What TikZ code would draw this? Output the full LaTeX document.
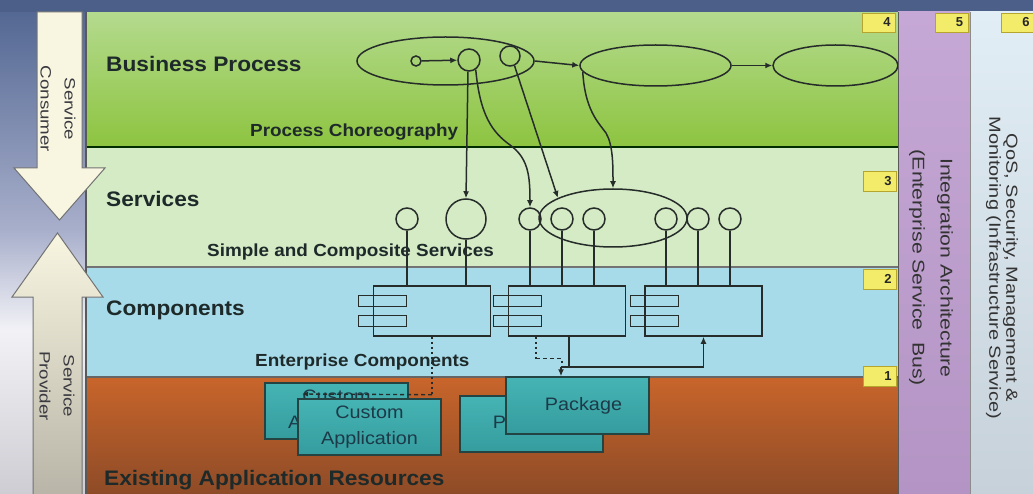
\documentclass[tikz,border=0pt]{standalone}
\usepackage{fontspec}
\setmainfont{Liberation Sans}
\newfontfamily\titlefont[FakeStretch=1.08]{Liberation Sans}
\newfontfamily\boxfont[FakeStretch=1.1]{Liberation Sans}
\newfontfamily\sidefont[FakeStretch=1.25]{Liberation Sans}
\usetikzlibrary{shapes.geometric,arrows.meta,calc}

% palette
\definecolor{topbar}{HTML}{4B5F89}
\definecolor{sideA}{HTML}{4F6490}
\definecolor{sideB}{HTML}{A8AFCB}
\definecolor{sideC}{HTML}{F2F2F6}
\definecolor{sideD}{HTML}{CDCDD3}
\definecolor{bpTop}{HTML}{B4DA8E}
\definecolor{bpBot}{HTML}{8DC440}
\definecolor{svc}{HTML}{D5EBC5}
\definecolor{cmp}{HTML}{A8DBE9}
\definecolor{resTop}{HTML}{C8652B}
\definecolor{resBot}{HTML}{8E4B27}
\definecolor{esbTop}{HTML}{C6A8D6}
\definecolor{esbBot}{HTML}{B394C4}
\definecolor{infraTop}{HTML}{E2EEF5}
\definecolor{infraBot}{HTML}{C6D1D9}
\definecolor{cream}{HTML}{F8F6E1}
\definecolor{creamDark}{HTML}{B8B4A7}
\definecolor{tagFill}{HTML}{F3EC6A}
\definecolor{tagLine}{HTML}{B5A52E}
\definecolor{appTop}{HTML}{46B4B4}
\definecolor{appBot}{HTML}{359C9E}
\definecolor{appLine}{HTML}{244444}
\definecolor{appInk}{HTML}{1C3A48}
\definecolor{ink}{HTML}{262C2A}
\definecolor{titleInk}{HTML}{1E2A2A}
\definecolor{sideInk}{HTML}{3A3A40}

\begin{document}
\begin{tikzpicture}[x=1pt,y=-1pt,
  ring/.style={circle, draw=ink, line width=1.5pt, inner sep=0pt},
  oval/.style={ellipse, draw=ink, line width=1.5pt, inner sep=0pt},
  arr/.style={draw=ink, line width=1.5pt, -{Latex[length=7pt,width=6pt]}},
  wire/.style={draw=ink, line width=1.5pt},
  comp/.style={rectangle, draw=ink, line width=1.5pt, minimum width=117pt, minimum height=50pt, inner sep=0pt},
  tab/.style={rectangle, draw=ink, line width=1.4pt, minimum width=48pt, minimum height=11pt, inner sep=0pt},
  app/.style={rectangle, draw=appLine, line width=1.5pt, top color=appTop, bottom color=appBot,
    minimum width=143pt, minimum height=56pt, inner sep=0pt, align=center, text=appInk,
    font=\boxfont\fontsize{18}{26}\selectfont},
  dotv/.style={draw=ink, line width=1.5pt, dash pattern=on 2.5pt off 2.5pt},
  dashh/.style={draw=ink, line width=1.4pt, dash pattern=on 4pt off 3pt},
  tag/.style={rectangle, fill=tagFill, draw=tagLine, line width=0.8pt, text width=23pt, align=right,
    inner xsep=5pt, inner ysep=0pt, minimum height=20pt, text=black!85,
    font=\bfseries\fontsize{13}{13}\selectfont},
  layertitle/.style={anchor=base west, inner sep=0pt, text=titleInk,
    font=\titlefont\bfseries\fontsize{21}{25}\selectfont},
  layersub/.style={anchor=base west, inner sep=0pt, text=titleInk,
    font=\titlefont\bfseries\fontsize{17.5}{21}\selectfont},
  sidetext/.style={rotate=-90, align=center, inner sep=0pt},
  edge/.style={draw=black!65, line width=1.2pt}]

\useasboundingbox (0,0) rectangle (1033,494);

% ---- left margin backdrop
\fill[top color=sideA, bottom color=sideB] (0,0) rectangle (86,230.5);
\fill[top color=sideB, bottom color=sideC] (0,230) rectangle (86,330.5);
\fill[top color=sideC, bottom color=sideD] (0,330) rectangle (86,494);

% ---- the four layers
\fill[top color=bpTop, bottom color=bpBot] (86,12) rectangle (898,147);
\fill[svc] (86,147) rectangle (898,267);
\fill[cmp] (86,267) rectangle (898,377);
\fill[top color=resTop, bottom color=resBot] (86,377) rectangle (898,494);
\draw[draw=black!55!green!40!black, line width=1.3pt] (86,147) -- (898,147);
\draw[draw=black!55, line width=1.3pt] (86,267) -- (898,267);
\draw[draw=black!60, line width=1.3pt] (86,377) -- (898,377);
\draw[edge] (86,12) -- (86,494);

% ---- title bar
\fill[topbar] (0,0) rectangle (1033,12);

% ---- consumer / provider arrows
\draw[draw=black!55, line width=1pt, fill=cream]
  (37,12) -- (82,12) -- (82,168) -- (105,168) -- (59.5,220) -- (14,168) -- (37,168) -- cycle;
\draw[draw=black!55, line width=1pt, top color=cream, bottom color=creamDark]
  (33,496) -- (33,297) -- (12,297) -- (57.5,233) -- (103,297) -- (82,297) -- (82,496) -- cycle;
\node[sidetext, text=sideInk, font=\sidefont\fontsize{15}{24}\selectfont] (consumer) at (58,109) {Service\\Consumer};
\node[sidetext, text=sideInk, font=\sidefont\fontsize{15}{24}\selectfont] (provider) at (57,386) {Service\\Provider};

% ---- layer captions
\node[layertitle] (tBP)  at (106,72)  {Business Process};
\node[layersub]   (tPC)  at (250,137) {Process Choreography};
\node[layertitle] (tSV)  at (106,207) {Services};
\node[layersub]   (tSC)  at (207,257) {Simple and Composite Services};
\node[layertitle] (tCP)  at (106,316) {Components};
\node[layersub]   (tEC)  at (255,366) {Enterprise Components};
\node[layertitle] (tEA)  at (104,485) {Existing Application Resources};

% ---- business process flow
\node[oval, minimum width=177pt, minimum height=48pt] (bp1) at (445.5,61) {};
\node[oval, minimum width=151pt, minimum height=41pt] (bp2) at (655.5,65.5) {};
\node[oval, minimum width=125pt, minimum height=41pt] (bp3) at (835.5,65.5) {};
\node[ring, minimum size=10pt] (start) at (416,61) {};
\node[ring, minimum size=22pt] (actA) at (469,60) {};
\node[ring, minimum size=20pt] (actB) at (510,56) {};
\draw[arr] (start) -- (actA);
\draw[arr] (bp1.east) -- (bp2.west);
\draw[arr] (bp2.east) -- (bp3.west);

% ---- services
\node[ring, minimum size=22pt] (s1) at (407,219) {};
\node[ring, minimum size=40pt] (s2) at (466,219) {};
\node[ring, minimum size=22pt] (s3) at (530,219) {};
\node[ring, minimum size=22pt] (s4) at (562,219) {};
\node[ring, minimum size=22pt] (s5) at (594,219) {};
\node[ring, minimum size=22pt] (s6) at (666,219) {};
\node[ring, minimum size=22pt] (s7) at (698,219) {};
\node[ring, minimum size=22pt] (s8) at (730,219) {};
\node[oval, minimum width=148pt, minimum height=58pt] (comp) at (613,218) {};

% ---- choreography links
\draw[arr] (actA.-95) -- (s2.north);
\draw[arr] (actA.-55) .. controls (480,115) and (492,132) .. (510,145)
                      .. controls (528,158) and (530,175) .. (s3.north);
\draw[arr] (actB.-65) -- (comp.160);
\draw[arr] (bp2.185) .. controls (585,110) and (598,122) .. (606,133)
                     .. controls (613,145) and (613,165) .. (comp.north);

% ---- components
\node[comp] (box1) at (432,311) {};
\node[comp] (box2) at (567,311) {};
\node[comp] (box3) at (703.5,311) {};
\foreach \b in {box1,box2,box3}{
  \node[tab] (\b-tabA) at ($(\b.west)+(10,-10)$) {};
  \node[tab] (\b-tabB) at ($(\b.west)+(10,10)$) {};
}
\foreach \s/\b in {s1/box1,s2/box1,s3/box2,s4/box2,s5/box2,s6/box3,s7/box3,s8/box3}{
  \draw[wire] (\s.south) -- (\s.south |- \b.north);
}

% ---- application resources
\node[app] (appBack) at (336.5,411) {Custom\\Application};
\node[app] (appFront) at (369.5,427) {Custom\\Application};
\node[app] (pkgBack) at (531.5,424) {Package};
\node[app, minimum height=57pt] (pkgFront) at (577.5,405.5) {\hspace*{12pt}Package};

% ---- realisation links
\coordinate (custTip) at (302,394);
\draw[dotv] (box1.south) -- ++(0,58) coordinate (k1);
\draw[dashh, -{Latex[length=6pt,width=5pt]}] (k1) -- (custTip);
\draw[dotv] ($(box2.south)+(-31,0)$) -- ++(0,22) coordinate (k2);
\draw[dashh] (k2) -- ++(26,0) -- ++(0,4);
\draw[wire] ($(box2.south)+(2,0)$) -- ++(0,31);
\coordinate (jL) at (561,367);
\coordinate (jR) at (box3.south |- jL);
\draw[arr] (jL) -- (jL |- pkgFront.north);
\draw[arr] (jL) -- (jR) -- (box3.south);

% ---- vertical cross-cutting columns
\fill[top color=esbTop, bottom color=esbBot] (898,12) rectangle (970,494);
\fill[top color=infraTop, bottom color=infraBot] (970,12) rectangle (1033,494);
\draw[edge, line width=1pt] (898,12) -- (898,494);
\draw[edge, line width=1pt, draw=black!45] (970,12) -- (970,494);
\node[sidetext, text=black!80, font=\sidefont\fontsize{17}{28}\selectfont] (esb) at (931,268)
  {Integration Architecture\\(Enterprise Service\ \ Bus)};
\node[sidetext, text=black!80, font=\sidefont\fontsize{16}{17}\selectfont] (infra) at (1002,268)
  {QoS, Security, Management \&\\Monitoring (Infrastructure Service)};

% ---- layer numbers
\node[tag, minimum height=19pt] (n4) at (879,22.5) {4};
\node[tag, minimum height=19pt] (n5) at (951.5,22.5) {5};
\node[tag, minimum height=19pt] (n6) at (1018,22.5) {6};
\node[tag] (n3) at (880,181) {3};
\node[tag] (n2) at (880,279) {2};
\node[tag] (n1) at (880,376) {1};
\end{tikzpicture}
\end{document}
